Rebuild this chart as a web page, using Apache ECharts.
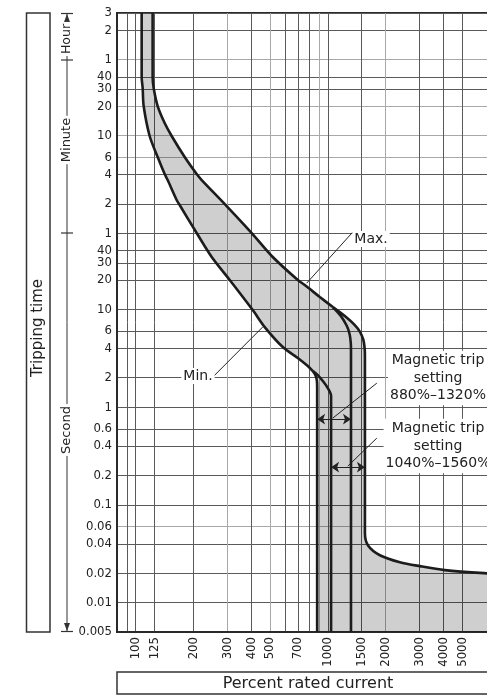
<!DOCTYPE html>
<html><head><meta charset="utf-8">
<script src="https://cdn.jsdelivr.net/npm/echarts@6/dist/echarts.min.js"></script>
<style>html,body{margin:0;padding:0;background:#fff}#c{width:487px;height:695px}</style>
</head><body><div id="c"></div>
<script>
// ---- axes ----
const xMin = 80, xMax = 10000;
const yMin = 0.005, yMax = 10800;
const xGridValues = [90,100,125,200,300,400,500,600,700,800,900,1000,1500,2000,3000,4000,5000];
const xLightGrid = [300,500,900,2000];
const xLabelValues = [100,125,200,300,400,500,700,1000,1500,2000,3000,4000,5000];
const yTickValues = [10800,7200,3600,2400,1800,1200,600,360,240,120,60,40,30,20,10,6,4,2,1,0.6,0.4,0.2,0.1,0.06,0.04,0.02,0.01,0.005];
const yTickLabels = ['3','2','1','40','30','20','10','6','4','2','1','40','30','20','10','6','4','2','1','0.6','0.4','0.2','0.1','0.06','0.04','0.02','0.01','0.005'];
const yLightGrid = [3600,1200,600,360,0.06];

// ---- curves: [percent rated current, tripping time (s)] ----
const minThermal = [[107.5,10800],[107.5,2390],[108.8,1845],[110.1,1206],[118.3,595],[130.2,362.6],[141.6,242.9],[146.8,210.9],[163.5,131.7],[169.5,117],[207.8,60.5],[248.8,34.4],[308.8,20],[406.8,9.85],[469.7,6.6],[583,4.12],[698,3.18],[786.7,2.63],[835.5,2.34]];
const minTo880 = [[835.5,2.34],[862,2.12],[876,1.9],[880,1.6],[880,0.005]];
const minTo1040 = [[835.5,2.34],[887,2.13],[942,1.85],[1000,1.566],[1040,1.30],[1040,0.005]];
const maxThermal = [[122.6,10800],[122.6,2390],[124.1,1845],[130.2,1206],[141.6,808],[154,595],[180,362.6],[207.8,242.9],[220.7,210.9],[294.3,117],[401.9,60.5],[517,34.4],[698,20],[759,17.76],[908.6,13.4],[1062,10.57]];
const maxTo1320 = [[1062,10.57],[1169,8.55],[1256,6.76],[1298,5.6],[1316,4.6],[1320,3.8],[1320,0.005]];
const maxTo1560 = [[1062,10.57],[1226,8.55],[1382,6.91],[1470,5.9],[1530,4.9],[1555,4.0],[1560,3.3],[1560,0.0514],[1616,0.0386],[1866,0.0305],[2371,0.0259],[3013,0.0236],[4064,0.0215],[6500,0.0200],[10000,0.0192]];

// ---- annotations (data coordinates) ----
const maxLeader = [[1349,61.9],[777,18.6]];
const minLeader = [[252,2.03],[458,6.6]];
const setting1Arrow = [[880,0.754],[1320,0.754]];
const setting2Arrow = [[1040,0.243],[1560,0.243]];
const setting1Leader = [[1799,1.76],[1062,0.773]];
const setting2Leader = [[1799,0.482],[1270,0.249]];

const band = [].concat(minThermal, minTo880.slice(1), [[xMax, yMin]], maxTo1560.slice().reverse(), maxThermal.slice().reverse());

const numFont = "'Liberation Sans Narrow','DejaVu Sans Condensed','Roboto',sans-serif";
const txtFont = "'DejaVu Sans',sans-serif";
const ink = '#1c1c1c';
const gridDark = '#5a5a5a', gridLight = '#a8a8a8';

const xGridSorted = xGridValues.slice().sort(function(a,b){return a-b;});
const yGridSorted = yTickValues.slice().sort(function(a,b){return a-b;});
function gridColors(vals, light){ return vals.map(function(v){ return light.indexOf(v) >= 0 ? gridLight : gridDark; }); }

function yLabel(v){
  for (let i=0;i<yTickValues.length;i++){ if (Math.abs(Math.log10(yTickValues[i])-Math.log10(v))<1e-6) return yTickLabels[i]; }
  return '';
}
function curve(data){
  return {type:'line', data:data, showSymbol:false, smooth:0.3, clip:true, silent:true, z:5,
    lineStyle:{color:ink, width:2.6}};
}
function txt(x, y, s, size, extra){
  const st = {text:s, fontFamily:txtFont, fontSize:size, fill:'#222', align:'center', verticalAlign:'middle', textAlign:'center', textVerticalAlign:'middle'};
  for (const k in (extra||{})) st[k] = extra[k];
  return st;
}

const chart = echarts.init(document.getElementById('c'));
chart.setOption({
  animation:false,
  backgroundColor:'#fff',
  grid:{left:117, top:13, right:-33, bottom:63, show:true, borderColor:'#2a2a2a', borderWidth:2, outerBoundsMode:'none', containLabel:false},
  xAxis:{type:'log', min:xMin, max:xMax, logBase:10,
    axisLine:{show:true, lineStyle:{color:'#2a2a2a', width:2}},
    axisTick:{show:false, customValues:xGridSorted},
    axisLabel:{customValues:xLabelValues, rotate:90, margin:5, fontFamily:numFont, fontSize:13, color:'#222', formatter:function(v){return String(Math.round(v));}},
    splitLine:{show:true, lineStyle:{color:gridColors(xGridSorted, xLightGrid), width:1}}},
  yAxis:{type:'log', min:yMin, max:yMax, logBase:10,
    axisLine:{show:true, lineStyle:{color:'#2a2a2a', width:2}},
    axisTick:{show:false, customValues:yGridSorted},
    axisLabel:{customValues:yTickValues, margin:5, fontFamily:numFont, fontSize:13, color:'#222', formatter:yLabel},
    splitLine:{show:true, lineStyle:{color:gridColors(yGridSorted, yLightGrid), width:1}}},
  series:[
    {type:'custom', coordinateSystem:'cartesian2d', data:[[1000,1]], silent:true, z:2,
      renderItem:function(params, api){
        const pts = band.map(function(p){return api.coord(p);});
        return {type:'polygon', shape:{points:pts}, style:{fill:'rgba(0,0,0,0.19)', stroke:null}};
      }},
    curve(minThermal), curve(minTo880), curve(minTo1040),
    curve(maxThermal), curve(maxTo1320), curve(maxTo1560),
    {type:'line', data:[], silent:true, z:6,
      markLine:{silent:true, animation:false, label:{show:false}, symbol:['none','arrow'], symbolSize:[0,9],
        lineStyle:{color:'#222', width:1, type:'solid'},
        data:[
          [{coord:maxLeader[0]},{coord:maxLeader[1]}],
          [{coord:minLeader[0]},{coord:minLeader[1]}],
          [{coord:setting1Leader[0], symbol:'none'},{coord:setting1Leader[1], symbol:'none'}],
          [{coord:setting2Leader[0], symbol:'none'},{coord:setting2Leader[1], symbol:'none'}],
          [{coord:setting1Arrow[0], symbol:'arrow', symbolSize:8},{coord:setting1Arrow[1], symbol:'arrow', symbolSize:8}],
          [{coord:setting2Arrow[0], symbol:'arrow', symbolSize:8},{coord:setting2Arrow[1], symbol:'arrow', symbolSize:8}]
        ]}}
  ],
  graphic:[
    {type:'rect', shape:{x:26.5, y:13, width:23.5, height:619}, style:{fill:'#fff', stroke:'#333', lineWidth:1.5}},
    {type:'text', x:38, y:328, rotation:Math.PI/2, style:txt(0,0,'Tripping time',15)},
    {type:'line', shape:{x1:67,y1:13,x2:67,y2:632}, style:{stroke:'#333', lineWidth:1}},
    {type:'line', shape:{x1:61,y1:13.5,x2:73,y2:13.5}, style:{stroke:'#333', lineWidth:1.2}},
    {type:'line', shape:{x1:61,y1:60,x2:73,y2:60}, style:{stroke:'#333', lineWidth:1.2}},
    {type:'line', shape:{x1:61,y1:233,x2:73,y2:233}, style:{stroke:'#333', lineWidth:1.2}},
    {type:'line', shape:{x1:61,y1:631.5,x2:73,y2:631.5}, style:{stroke:'#333', lineWidth:1.2}},
    {type:'polygon', shape:{points:[[67,14],[64,22],[70,22]]}, style:{fill:'#333'}},
    {type:'polygon', shape:{points:[[67,631],[64,623],[70,623]]}, style:{fill:'#333'}},
    {type:'text', x:67, y:39, rotation:Math.PI/2, style:txt(0,0,'Hour',12.5,{backgroundColor:'#fff', padding:[0,2]})},
    {type:'text', x:67, y:140, rotation:Math.PI/2, style:txt(0,0,'Minute',13,{backgroundColor:'#fff', padding:[0,2]})},
    {type:'text', x:67, y:430, rotation:Math.PI/2, style:txt(0,0,'Second',13,{backgroundColor:'#fff', padding:[0,2]})},
    {type:'rect', shape:{x:117, y:672, width:420, height:22}, style:{fill:'#fff', stroke:'#333', lineWidth:1.5}},
    {type:'text', x:308, y:684, style:txt(0,0,'Percent rated current',16)},
    {type:'text', x:371, y:239, z:100, style:txt(0,0,'Max.',14,{backgroundColor:'#fff', padding:[1,2]})},
    {type:'text', x:198, y:376, z:100, style:txt(0,0,'Min.',14,{backgroundColor:'#fff', padding:[1,2]})},
    {type:'text', x:438, y:378, z:100, style:txt(0,0,'Magnetic trip\nsetting\n880%–1320%',14,{lineHeight:17.5, backgroundColor:'#fff', padding:[1,2]})},
    {type:'text', x:438, y:446, z:100, style:txt(0,0,'Magnetic trip\nsetting\n1040%–1560%',14,{lineHeight:17.5, backgroundColor:'#fff', padding:[1,2]})}
  ]
});
</script></body></html>
